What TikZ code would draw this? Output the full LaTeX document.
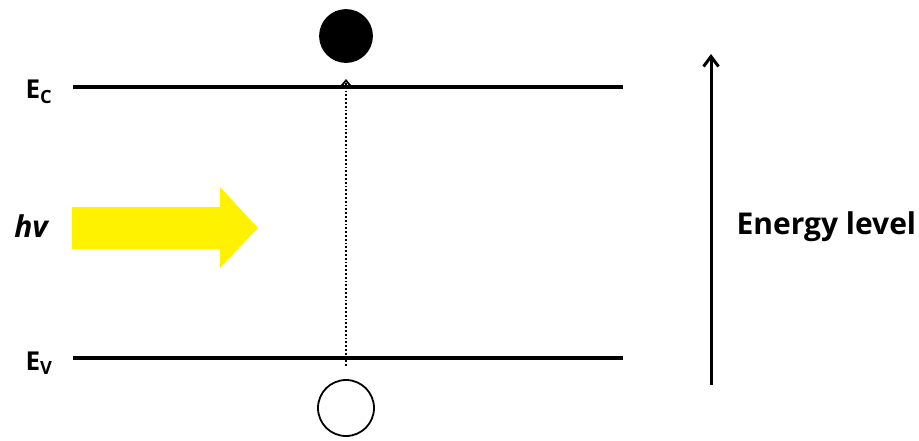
\documentclass[tikz,border=0pt]{standalone}
\usepackage{fontspec}
\setmainfont{Open Sans}
\usetikzlibrary{arrows.meta}

\tikzset{
  level/.style={line width=3.4pt},
  carrier/.style={circle, minimum size=52pt, inner sep=0pt, line width=1.8pt},
  label/.style={font=\bfseries\fontsize{26}{30}\selectfont},
}

\begin{document}
\begin{tikzpicture}[x=1pt, y=-1pt]
  \useasboundingbox (0,0) rectangle (919,440);

  %% Band edges
  \coordinate (ecL) at (73,87);
  \coordinate (ecR) at (623,87);
  \coordinate (evL) at (73,358);
  \coordinate (evR) at (623,358);
  \draw[level] (ecL) -- (ecR);
  \draw[level] (evL) -- (evR);

  % Labels
  \node[label] (ec) at (39,92) {E\textsubscript{C}};
  \node[label] (ev) at (39,363) {E\textsubscript{V}};

  %% Electron and hole
  \node[carrier, fill=black, draw=black] (electron) at (346,36) {};
  \node[carrier, draw=black, fill=white, minimum width=53pt, minimum height=56pt] (hole) at (346,408) {};

  % Excitation
  \coordinate (exBot) at (346,366);
  \coordinate (exTop) at (346,79);
  \draw[dotted, line width=1.8pt, -{Straight Barb[length=6pt, width=10pt]}] (exBot) -- (exTop);

  %% Photon
  \node[font=\bfseries\itshape\fontsize{30}{34}\selectfont] (photon) at (31,226) {hv};
  \fill[yellow] (72,207) -- (220,207) -- (220,187) -- (258,228) -- (220,268)
    -- (220,249) -- (72,249) -- cycle;

  %% Energy axis
  \coordinate (axBot) at (711,385);
  \coordinate (axTop) at (711,54);
  \draw[line width=3pt, -{Straight Barb[length=10pt, width=15pt]}] (axBot) -- (axTop);
  \node[font=\bfseries\fontsize{30}{34}\selectfont, anchor=west] (energy) at (733,227) {Energy level};
\end{tikzpicture}
\end{document}
